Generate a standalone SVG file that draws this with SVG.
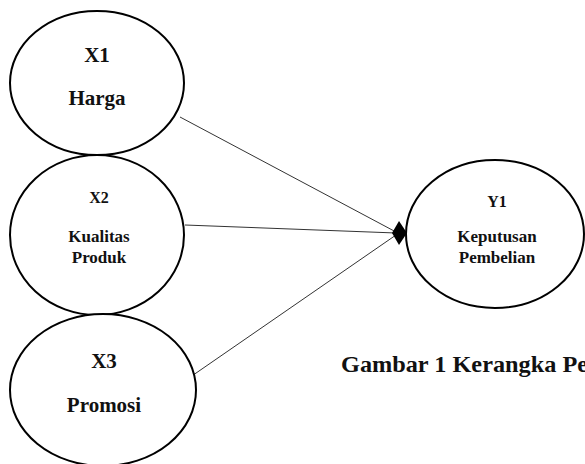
<svg xmlns="http://www.w3.org/2000/svg" width="585" height="464" viewBox="0 0 585 464">
<style>
.n{fill:#fff;stroke:#000;stroke-width:2}
.t{font-family:"Liberation Serif","Times New Roman",serif;font-weight:bold;fill:#111;text-anchor:middle}
.c{stroke:#333;stroke-width:1;fill:none}
</style>
<rect width="585" height="464" fill="#fff"/>
<g id="connectors">
<line class="c" x1="180" y1="117" x2="396" y2="232"/>
<line class="c" x1="185" y1="225" x2="396" y2="233"/>
<line class="c" x1="186" y1="380" x2="396" y2="235"/>
<polygon points="392,233 399,221 407,233 399,245" fill="#000"/>
</g>
<g id="x1">
<ellipse class="n" cx="97" cy="83" rx="87" ry="72"/>
<text class="t" x="97" y="62" font-size="21">X1</text>
<text class="t" x="97" y="105" font-size="21">Harga</text>
</g>
<g id="x2">
<ellipse class="n" cx="97" cy="235" rx="87" ry="80"/>
<text class="t" x="99" y="203" font-size="16">X2</text>
<text class="t" x="99" y="242" font-size="17">Kualitas</text>
<text class="t" x="99" y="263" font-size="17">Produk</text>
</g>
<g id="x3">
<ellipse class="n" cx="103" cy="390" rx="93" ry="76"/>
<text class="t" x="104" y="368" font-size="21">X3</text>
<text class="t" x="104" y="412" font-size="21">Promosi</text>
</g>
<g id="y1">
<ellipse class="n" cx="495" cy="234" rx="89" ry="74"/>
<text class="t" x="497" y="207" font-size="16">Y1</text>
<text class="t" x="497" y="242" font-size="17">Keputusan</text>
<text class="t" x="497" y="263" font-size="17">Pembelian</text>
</g>
<text x="341" y="372" font-family="Liberation Serif,Times New Roman,serif" font-weight="bold" font-size="23" fill="#111" textLength="247" lengthAdjust="spacingAndGlyphs">Gambar 1 Kerangka Pe</text>
</svg>
